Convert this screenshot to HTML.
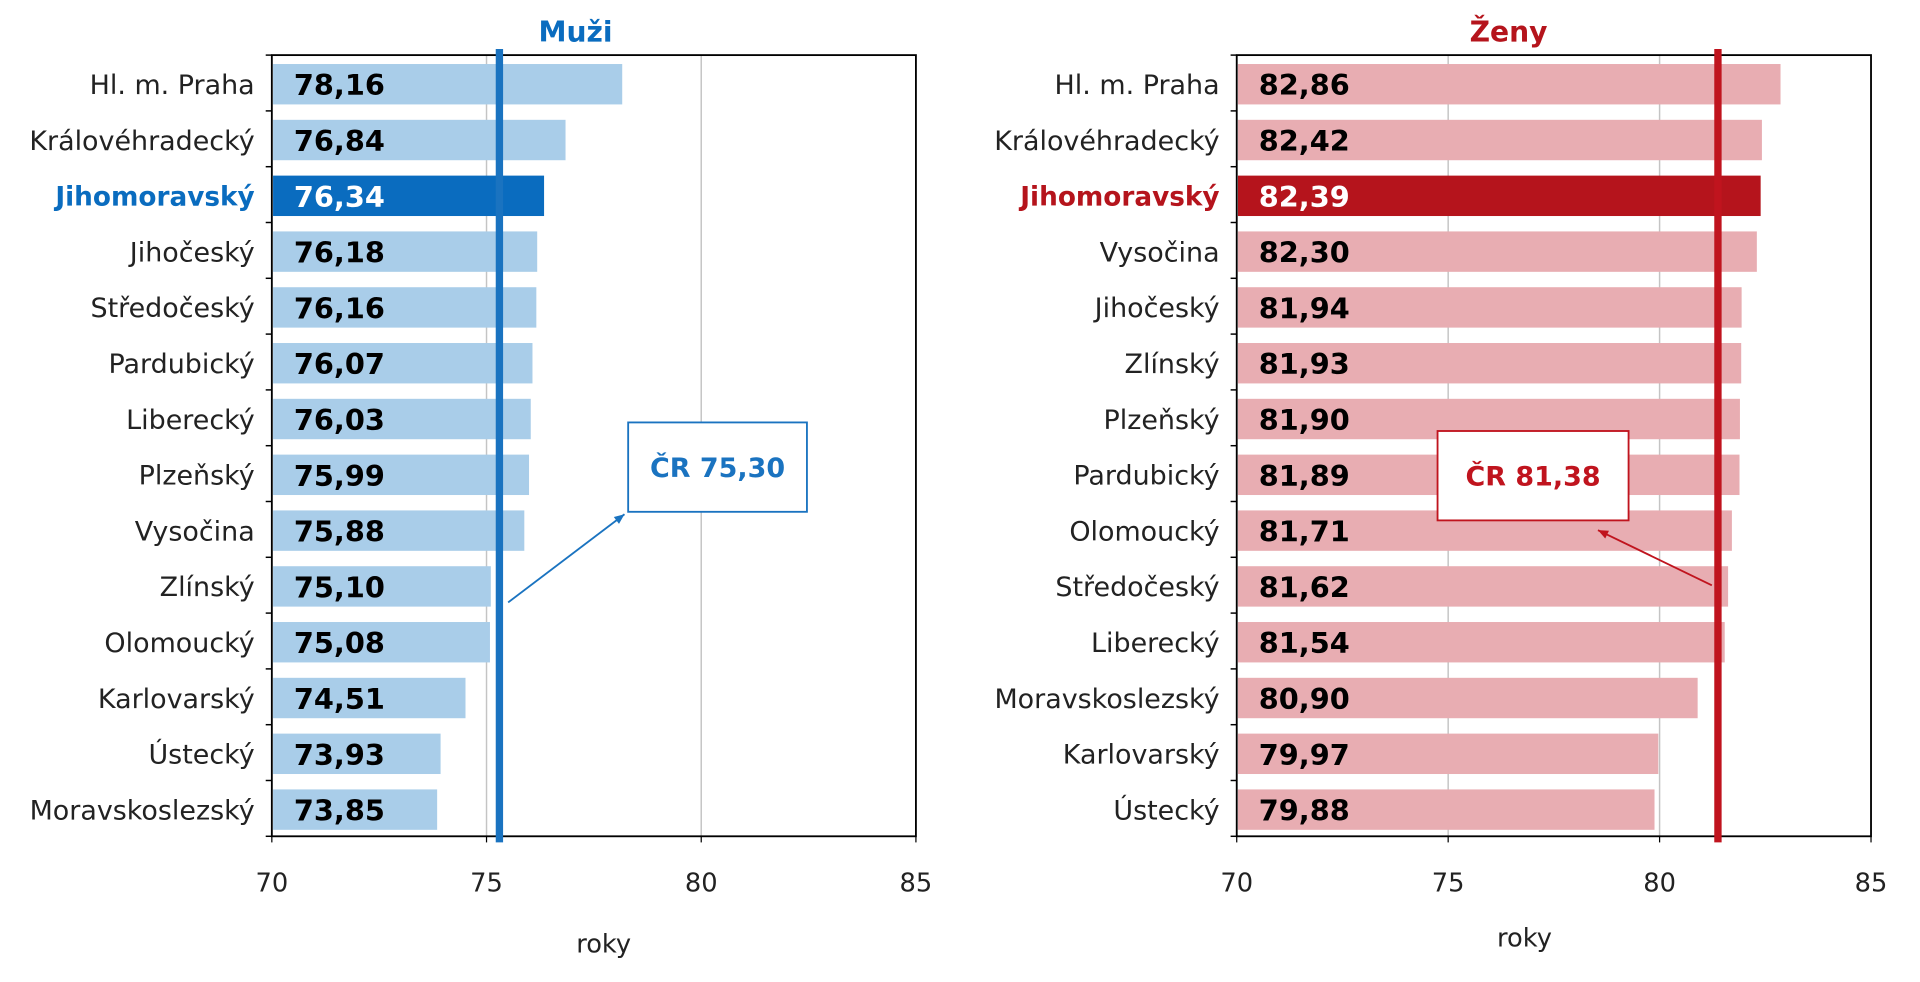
<!DOCTYPE html>
<html><head><meta charset="utf-8"><style>
html,body{margin:0;padding:0;background:#fff;width:1920px;height:982px;overflow:hidden}
svg{display:block}
text{font-family:"DejaVu Sans","Liberation Sans",sans-serif}
</style></head><body>
<svg id="s" width="1920" height="982" viewBox="0 0 1568 802" preserveAspectRatio="none" xmlns="http://www.w3.org/2000/svg"></svg>
<script>
const s=document.getElementById('s');
let h='';
function chart(o){
 const L=o.L,R=o.R,T=45,B=683,n=o.data.length,rh=(B-T)/n,u=(R-L)/15;
 const X=v=>L+(v-70)*u;
 [75,80].forEach(v=>{h+=`<line x1="${X(v)}" y1="${T}" x2="${X(v)}" y2="${B}" stroke="#c4c4c4" stroke-width="1.2"/>`});
 o.data.forEach((d,i)=>{
  const cy=T+rh*(i+0.5)+1,hl=d[0]==='Jihomoravský';
  h+=`<rect x="${L+1}" y="${cy-16.5}" width="${X(d[1])-L-1}" height="33" fill="${hl?o.dark:o.light}"/>`;
  h+=`<text x="${L+18}" y="${cy+9}" font-size="23.5" font-weight="bold" fill="${hl?'#fff':'#000'}">${d[1].toFixed(2).replace('.',',')}</text>`;
  h+=`<text x="${L-14}" y="${cy+8}" font-size="${hl?21.5:22}" text-anchor="end" font-weight="${hl?'bold':'normal'}" fill="${hl?o.dark:'#222'}">${d[0]}</text>`;
 });
 for(let i=0;i<=n;i++){const y=T+rh*i;h+=`<line x1="${L-5}" y1="${y}" x2="${L}" y2="${y}" stroke="#000" stroke-width="1.2"/>`;}
 h+=`<rect x="${L}" y="${T}" width="${R-L}" height="${B-T}" fill="none" stroke="#000" stroke-width="1.5"/>`;
 [70,75,80,85].forEach(v=>{h+=`<line x1="${X(v)}" y1="${B}" x2="${X(v)}" y2="${B+5}" stroke="#000"/><text x="${X(v)}" y="${B+45}" font-size="21" text-anchor="middle" fill="#222">${v}</text>`});
 h+=`<text x="${(L+R)/2+o.rx}" y="${o.ry}" font-size="21" text-anchor="middle" fill="#222">roky</text>`;
 h+=`<text x="${o.tx}" y="34" font-size="23" font-weight="bold" text-anchor="middle" fill="${o.dark}">${o.title}</text>`;
 h+=`<line x1="${X(o.cr)}" y1="${T-5}" x2="${X(o.cr)}" y2="${B+5}" stroke="${o.line}" stroke-width="6"/>`;
 const b=o.box;
 h+=`<rect x="${b[0]}" y="${b[1]}" width="${b[2]}" height="${b[3]}" fill="#fff" stroke="${o.line}" stroke-width="1.5"/>`;
 h+=`<text x="${b[0]+b[2]/2}" y="${b[1]+b[3]/2+8}" font-size="22" font-weight="bold" text-anchor="middle" fill="${o.line}">ČR  ${o.cr.toFixed(2).replace('.',',')}</text>`;
 const a=o.arrow;
 const ang=Math.atan2(a[3]-a[1],a[2]-a[0]),al=9;
 h+=`<line x1="${a[0]}" y1="${a[1]}" x2="${a[2]}" y2="${a[3]}" stroke="${o.line}" stroke-width="1.5"/>`;
 h+=`<polygon points="${a[2]},${a[3]} ${a[2]-al*Math.cos(ang-0.4)},${a[3]-al*Math.sin(ang-0.4)} ${a[2]-al*Math.cos(ang+0.4)},${a[3]-al*Math.sin(ang+0.4)}" fill="${o.line}"/>`;
}
chart({L:222,R:748,title:'Muži',tx:470,cr:75.30,light:'#a9cde9',dark:'#0a6cbf',line:'#1a73c0',rx:8,ry:778,
 box:[513,345,146,73],arrow:[415,492,510,420],
 data:[['Hl. m. Praha',78.16],['Královéhradecký',76.84],['Jihomoravský',76.34],['Jihočeský',76.18],['Středočeský',76.16],['Pardubický',76.07],['Liberecký',76.03],['Plzeňský',75.99],['Vysočina',75.88],['Zlínský',75.10],['Olomoucký',75.08],['Karlovarský',74.51],['Ústecký',73.93],['Moravskoslezský',73.85]]});
chart({L:1010,R:1528,title:'Ženy',tx:1232,cr:81.38,light:'#e8adb2',dark:'#b5141c',line:'#c0141e',rx:-24,ry:773,
 box:[1174,352,156,73],arrow:[1398,478,1305,433],
 data:[['Hl. m. Praha',82.86],['Královéhradecký',82.42],['Jihomoravský',82.39],['Vysočina',82.30],['Jihočeský',81.94],['Zlínský',81.93],['Plzeňský',81.90],['Pardubický',81.89],['Olomoucký',81.71],['Středočeský',81.62],['Liberecký',81.54],['Moravskoslezský',80.90],['Karlovarský',79.97],['Ústecký',79.88]]});
s.innerHTML=h;
</script>
</body></html>
